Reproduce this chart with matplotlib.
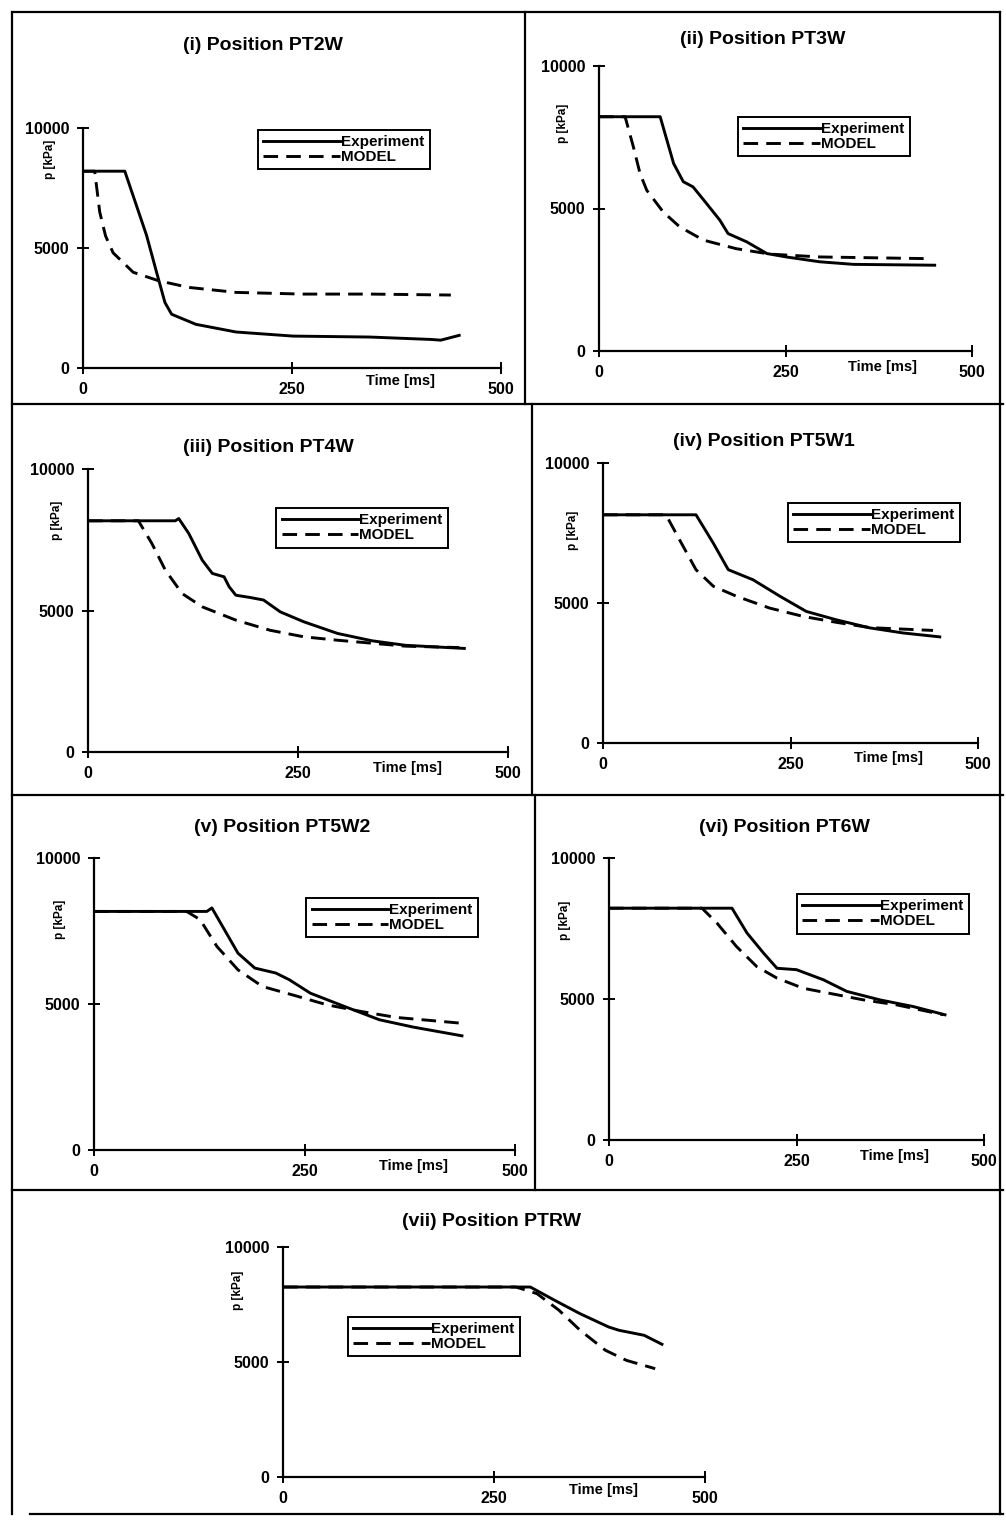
import matplotlib
matplotlib.use("Agg")
import matplotlib.pyplot as plt
from matplotlib.lines import Line2D

plt.rcParams['font.family'] = ['Liberation Sans', 'DejaVu Sans']
plt.rcParams['font.weight'] = 'bold'

# ---- data (t in ms, p in kPa) ----
titles = ['(i) Position PT2W', '(ii) Position PT3W', '(iii) Position PT4W',
          '(iv) Position PT5W1', '(v) Position PT5W2', '(vi) Position PT6W',
          '(vii) Position PTRW']

exp_t1 = [0, 50, 76, 88, 98, 106, 135, 183, 251, 343, 416, 428, 450]
exp_p1 = [8200, 8200, 5530, 3990, 2730, 2240, 1820, 1500, 1330, 1290, 1190, 1160, 1360]
mod_t1 = [0, 14, 20, 27, 36, 60, 90, 126, 183, 263, 343, 440]
mod_p1 = [8200, 8200, 6500, 5500, 4800, 3990, 3640, 3360, 3150, 3080, 3080, 3040]

exp_t2 = [0, 82, 91, 100, 113, 126, 144, 162, 173, 198, 225, 251, 296, 341, 450]
exp_p2 = [8220, 8220, 7400, 6580, 5940, 5760, 5180, 4590, 4120, 3830, 3420, 3300, 3130, 3040, 3010]
mod_t2 = [0, 35, 46, 55, 64, 86, 108, 140, 184, 229, 296, 443]
mod_p2 = [8220, 8220, 7170, 6230, 5640, 4880, 4360, 3890, 3590, 3400, 3300, 3240]

exp_t3 = [0, 104, 108, 120, 136, 148, 162, 168, 176, 193, 209, 229, 257, 297, 338, 378, 448]
exp_p3 = [8170, 8170, 8250, 7720, 6780, 6310, 6190, 5840, 5540, 5460, 5370, 4950, 4600, 4190, 3930, 3770, 3660]
mod_t3 = [0, 60, 76, 92, 112, 136, 176, 217, 257, 297, 378, 442]
mod_p3 = [8170, 8170, 7370, 6430, 5600, 5130, 4660, 4300, 4070, 3950, 3740, 3690]

exp_t4 = [0, 124, 147, 167, 200, 236, 271, 311, 356, 400, 449]
exp_p4 = [8150, 8150, 7140, 6190, 5830, 5240, 4700, 4400, 4110, 3930, 3790]
mod_t4 = [0, 84, 102, 124, 147, 178, 222, 267, 311, 356, 440]
mod_p4 = [8150, 8150, 7260, 6190, 5600, 5240, 4820, 4520, 4310, 4120, 4020]

exp_t5 = [0, 134, 140, 155, 171, 191, 216, 232, 257, 298, 339, 379, 437]
exp_p5 = [8170, 8170, 8290, 7540, 6740, 6230, 6060, 5830, 5370, 4910, 4460, 4210, 3910]
mod_t5 = [0, 110, 126, 146, 171, 200, 236, 277, 318, 359, 437]
mod_p5 = [8170, 8170, 7890, 6970, 6170, 5600, 5310, 4970, 4740, 4540, 4340]

exp_t6 = [0, 164, 184, 206, 224, 250, 286, 317, 361, 406, 448]
exp_p6 = [8220, 8220, 7340, 6630, 6090, 6040, 5680, 5270, 4970, 4730, 4440]
mod_t6 = [0, 124, 144, 170, 197, 224, 259, 304, 339, 384, 446]
mod_p6 = [8220, 8220, 7690, 6860, 6150, 5740, 5380, 5150, 4970, 4790, 4440]

exp_t7 = [0, 293, 322, 352, 386, 398, 428, 449]
exp_p7 = [8260, 8260, 7680, 7100, 6520, 6380, 6160, 5770]
mod_t7 = [0, 276, 301, 327, 352, 382, 407, 441]
mod_p7 = [8260, 8260, 7970, 7250, 6380, 5510, 5070, 4710]

exp_t = [exp_t1, exp_t2, exp_t3, exp_t4, exp_t5, exp_t6, exp_t7]
exp_p = [exp_p1, exp_p2, exp_p3, exp_p4, exp_p5, exp_p6, exp_p7]
mod_t = [mod_t1, mod_t2, mod_t3, mod_t4, mod_t5, mod_t6, mod_t7]
mod_p = [mod_p1, mod_p2, mod_p3, mod_p4, mod_p5, mod_p6, mod_p7]

W, H = 1006, 1525
fig = plt.figure(figsize=(W / 100, H / 100), dpi=100)

# axes boxes in pixels: x(t=0), x(t=500), y(p=10000), y(p=0)
boxes = [(83, 501, 128, 368), (599, 972, 66, 351), (88, 508, 469, 752),
         (603, 978, 463, 743), (94, 515, 858, 1150), (609, 984, 858, 1140),
         (283, 705, 1247, 1477)]
title_xy = [(263, 46), (763, 40), (268, 447), (764, 441), (282, 828), (784, 828), (492, 1222)]
leg_xy = [(0.419, 0.992), (0.373, 0.821), (0.448, 0.862), (0.493, 0.857),
          (0.504, 0.863), (0.501, 0.872), (0.154, 0.696)]
plab_xy = [(-0.08, 0.87), (-0.097, 0.80), (-0.074, 0.82), (-0.08, 0.76),
           (-0.08, 0.79), (-0.117, 0.78), (-0.107, 0.81)]

for k in range(7):
    x0, x1, yt, yb = boxes[k]
    ax = fig.add_axes([x0 / W, 1 - yb / H, (x1 - x0) / W, (yb - yt) / H])
    ax.plot(exp_t[k], exp_p[k], color='black', lw=2.1, label='Experiment')
    ax.plot(mod_t[k], mod_p[k], color='black', lw=2.1, linestyle=(0, (5, 2.8)), label='MODEL')
    ax.set_xlim(0, 500)
    ax.set_ylim(0, 10000)
    ax.set_xticks([0, 250, 500])
    ax.set_yticks([0, 5000, 10000])
    ax.tick_params(direction='inout', length=8, width=1.4, labelsize=11.5, pad=6)
    for lab in ax.get_xticklabels() + ax.get_yticklabels():
        lab.set_fontweight('bold')
    for s in ['top', 'right']:
        ax.spines[s].set_visible(False)
    for s in ['left', 'bottom']:
        ax.spines[s].set_linewidth(1.6)
    ax.patch.set_alpha(0)
    ax.text(0.76, -0.055, 'Time [ms]', transform=ax.transAxes, ha='center', va='center',
            fontsize=10.5, fontweight='bold')
    ax.text(plab_xy[k][0], plab_xy[k][1], 'p [kPa]', transform=ax.transAxes, rotation=90,
            ha='center', va='center', fontsize=8.5, fontweight='bold')
    leg = ax.legend(loc='upper left', bbox_to_anchor=leg_xy[k], frameon=True, fancybox=False,
                    edgecolor='black', framealpha=1, fontsize=11, handlelength=5.0,
                    handletextpad=0.1, labelspacing=0.05, borderpad=0.35, borderaxespad=0)
    leg.get_frame().set_linewidth(1.4)
    fig.text(title_xy[k][0] / W, 1 - title_xy[k][1] / H, titles[k], ha='center', va='center',
             fontsize=14, fontweight='bold')

# panel frame lines
def hline(y, xa, xb):
    fig.add_artist(Line2D([xa / W, xb / W], [1 - y / H, 1 - y / H], color='black', lw=1.6))

def vline(x, ya, yb):
    fig.add_artist(Line2D([x / W, x / W], [1 - ya / H, 1 - yb / H], color='black', lw=1.6))

hline(12, 12, 1000)
hline(404, 12, 1003)
hline(795, 12, 1003)
hline(1190, 12, 1003)
hline(1514, 30, 1003)
vline(12, 12, 1514)
vline(1000, 12, 1514)
vline(525, 12, 404)
vline(532, 404, 795)
vline(535, 795, 1190)

fig.savefig('out.png', dpi=100)
